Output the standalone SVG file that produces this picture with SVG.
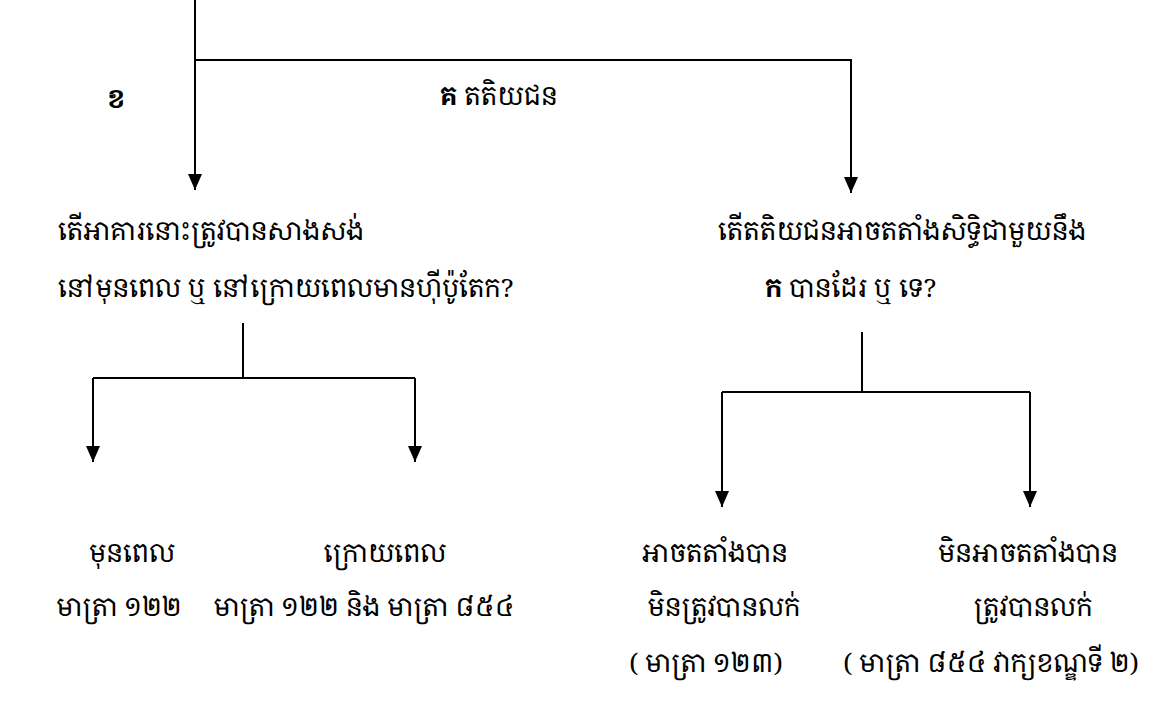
<svg xmlns="http://www.w3.org/2000/svg" width="1169" height="701" viewBox="0 0 1169 701">
<style>
text{font-family:"Noto Serif Khmer","Khmer OS","Khmer OS System","Noto Sans Khmer","DejaVu Sans",sans-serif;font-size:26px;fill:#000}
.b{font-weight:bold}
.ln{stroke:#000;stroke-width:2;fill:none}
</style>
<defs>
<marker id="ah" viewBox="0 0 16 14" refX="16" refY="7" markerWidth="16" markerHeight="14" markerUnits="userSpaceOnUse" orient="auto">
<path d="M0,0 L16,7 L0,14 Z" fill="#000"/>
</marker>
</defs>
<rect width="1169" height="701" fill="#fff"/>
<g id="connectors">
<path class="ln" d="M195,0 V190" marker-end="url(#ah)"/>
<path class="ln" d="M195,60 H851 V193" marker-end="url(#ah)"/>
<path class="ln" d="M243,323 V378"/>
<path class="ln" d="M93,378 H415"/>
<path class="ln" d="M93,378 V462" marker-end="url(#ah)"/>
<path class="ln" d="M415,378 V462" marker-end="url(#ah)"/>
<path class="ln" d="M862,332 V392"/>
<path class="ln" d="M722,392 H1030"/>
<path class="ln" d="M722,392 V507" marker-end="url(#ah)"/>
<path class="ln" d="M1030,392 V507" marker-end="url(#ah)"/>
</g>
<g id="label-b"><text class="b" x="107" y="108">ខ</text></g>
<g id="label-c"><text x="440" y="105"><tspan class="b">គ</tspan> តតិយជន</text></g>
<g id="q-left">
<text x="58" y="240">តើអាគារនោះត្រូវបានសាងសង់</text>
<text x="58" y="297">នៅមុនពេល ឬ នៅក្រោយពេលមានហ៊ីប៉ូតែក?</text>
</g>
<g id="q-right">
<text x="718" y="240">តើតតិយជនអាចតតាំងសិទ្ធិជាមួយនឹង</text>
<text x="765" y="297"><tspan class="b">ក</tspan> បានដែរ ឬ ទេ?</text>
</g>
<g id="before">
<text x="132" y="562" text-anchor="middle">មុនពេល</text>
<text x="119" y="616" text-anchor="middle">មាត្រា ១២២</text>
</g>
<g id="after">
<text x="385" y="562" text-anchor="middle">ក្រោយពេល</text>
<text x="364" y="616" text-anchor="middle">មាត្រា ១២២ និង មាត្រា ៨៥៤</text>
</g>
<g id="can">
<text x="715" y="562" text-anchor="middle">អាចតតាំងបាន</text>
<text x="724" y="616" text-anchor="middle">មិនត្រូវបានលក់</text>
<text x="706" y="672" text-anchor="middle">( មាត្រា ១២៣)</text>
</g>
<g id="cannot">
<text x="1028" y="562" text-anchor="middle">មិនអាចតតាំងបាន</text>
<text x="1033" y="616" text-anchor="middle">ត្រូវបានលក់</text>
<text x="991" y="672" text-anchor="middle">( មាត្រា ៨៥៤ វាក្យខណ្ឌទី ២)</text>
</g>
</svg>
